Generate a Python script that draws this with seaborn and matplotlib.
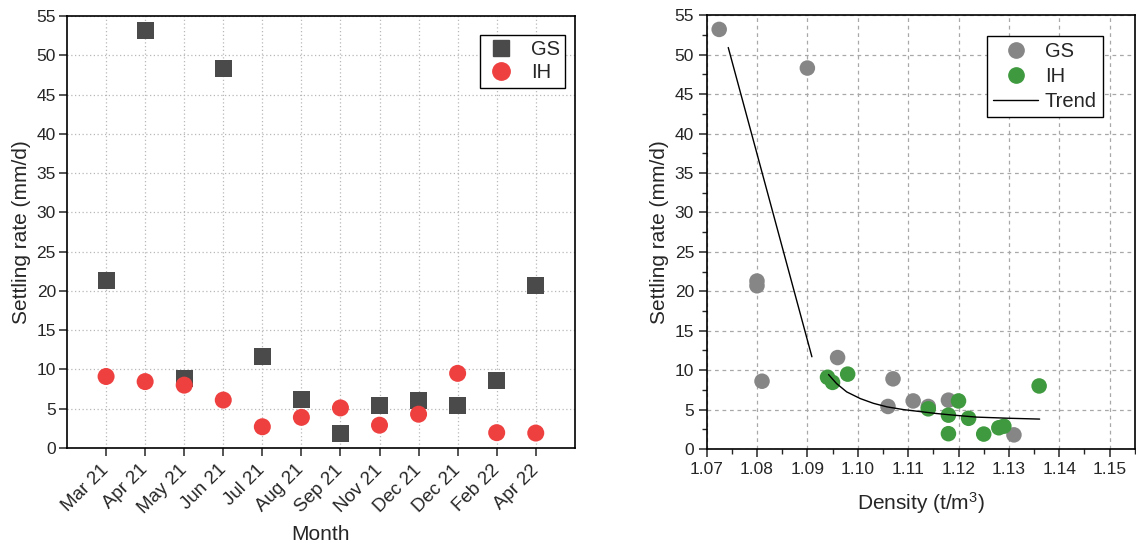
import numpy as np
import pandas as pd
import matplotlib
matplotlib.use("Agg")
import matplotlib.pyplot as plt
from matplotlib.lines import Line2D
from matplotlib.ticker import MultipleLocator, FormatStrFormatter
from matplotlib.transforms import ScaledTranslation
import seaborn as sns

# Sampling campaigns and measured settling rates (mm/d)
months = ["Mar 21", "Apr 21", "May 21", "Jun 21", "Jul 21", "Aug 21",
          "Sep 21", "Nov 21", "Dec 21", "Dec 21", "Feb 22", "Apr 22"]
gs_rate = [21.3, 53.2, 8.9, 48.3, 11.6, 6.2, 1.8, 5.4, 6.1, 5.4, 8.6, 20.7]
ih_rate = [9.1, 8.45, 8.0, 6.1, 2.7, 3.9, 5.1, 2.9, 4.3, 9.5, 1.95, 1.9]

# Sludge density (t/m3) for the same campaigns
gs_density = [1.080, 1.0725, 1.107, 1.090, 1.096, 1.118,
              1.131, 1.106, 1.111, 1.114, 1.081, 1.080]
ih_density = [1.094, 1.095, 1.136, 1.120, 1.128, 1.122,
              1.114, 1.129, 1.118, 1.098, 1.118, 1.125]

# Trend curves (density vs. settling rate)
trend_steep_x = [1.0743, 1.0909]
trend_steep_y = [50.9, 11.7]
trend_decay_x = [1.0942, 1.0958, 1.0978, 1.1005, 1.1031, 1.1058, 1.1091,
                 1.1124, 1.1157, 1.1190, 1.1236, 1.1303, 1.1361]
trend_decay_y = [9.45, 8.3, 7.25, 6.4, 5.8, 5.35, 5.0,
                 4.75, 4.5, 4.3, 4.05, 3.9, 3.8]

sns.set_style("white")
plt.rcParams["font.family"] = ["Liberation Sans", "DejaVu Sans"]
plt.rcParams["mathtext.fontset"] = "custom"
plt.rcParams["mathtext.rm"] = "Liberation Sans"
plt.rcParams["mathtext.it"] = "Liberation Sans:italic"

c_gs_sq = "#4a4a4a"
c_ih_red = "#ef4040"
c_gs_gray = "#868686"
c_ih_green = "#3f9a3f"

pos = np.arange(1, len(months) + 1)
df_month = pd.concat([
    pd.DataFrame({"pos": pos, "rate": gs_rate, "site": "GS"}),
    pd.DataFrame({"pos": pos, "rate": ih_rate, "site": "IH"}),
], ignore_index=True)
df_dens = pd.concat([
    pd.DataFrame({"density": gs_density, "rate": gs_rate, "site": "GS"}),
    pd.DataFrame({"density": ih_density, "rate": ih_rate, "site": "IH"}),
], ignore_index=True)

fig = plt.figure(figsize=(11.36, 5.43), dpi=100)
ax1 = fig.add_axes([0.059, 0.175, 0.447, 0.7956])
ax2 = fig.add_axes([0.622, 0.173, 0.377, 0.799])

tick_fs = 12.5
xtick_fs = 13.5
label_fs = 15
leg_fs = 14.5

# ---- left: settling rate per month ----
sns.scatterplot(data=df_month, x="pos", y="rate", hue="site", style="site",
                palette={"GS": c_gs_sq, "IH": c_ih_red},
                markers={"GS": "s", "IH": "o"}, s=150, linewidth=0,
                ax=ax1, legend=False, zorder=3)
ax1.set_xlim(0, len(months) + 1)
ax1.set_ylim(0, 55)
ax1.set_xticks(pos)
ax1.set_xticklabels(months, rotation=45, ha="right", rotation_mode="anchor",
                    va="center")
shift = ScaledTranslation(0.09, -0.12, fig.dpi_scale_trans)
for lab in ax1.get_xticklabels():
    lab.set_transform(lab.get_transform() + shift)
ax1.yaxis.set_major_locator(MultipleLocator(5))
ax1.grid(True, linestyle=(0, (1, 2)), color="#b8b8b8", linewidth=0.9)
ax1.set_axisbelow(True)
ax1.set_xlabel("Month", fontsize=label_fs, labelpad=6)
ax1.set_ylabel("Settling rate (mm/d)", fontsize=label_fs, labelpad=4)
ax1.tick_params(axis="x", direction="out", length=6, width=1.1,
                labelsize=xtick_fs, pad=8, bottom=True)
ax1.tick_params(axis="y", direction="out", length=6, width=1.1,
                labelsize=tick_fs, pad=2, left=True)
h1 = [Line2D([], [], marker="s", linestyle="", color=c_gs_sq, markersize=11),
      Line2D([], [], marker="o", linestyle="", color=c_ih_red, markersize=12.5)]
leg1 = ax1.legend(h1, ["GS", "IH"], loc="upper right",
                  bbox_to_anchor=(0.981, 0.955), fontsize=leg_fs,
                  frameon=True, fancybox=False, framealpha=1,
                  edgecolor="black", handlelength=1.6, handletextpad=0.7,
                  borderpad=0.25, labelspacing=0.2, borderaxespad=0)
leg1.get_frame().set_linewidth(1.0)

# ---- right: settling rate vs density ----
sns.scatterplot(data=df_dens, x="density", y="rate", hue="site",
                palette={"GS": c_gs_gray, "IH": c_ih_green},
                s=125, linewidth=0, ax=ax2, legend=False, zorder=3)
sns.lineplot(x=trend_steep_x, y=trend_steep_y, color="black", linewidth=1.0,
             ax=ax2, sort=False, estimator=None, zorder=4)
sns.lineplot(x=trend_decay_x, y=trend_decay_y, color="black", linewidth=1.0,
             ax=ax2, sort=False, estimator=None, zorder=4)
ax2.set_xlim(1.07, 1.155)
ax2.set_ylim(0, 55)
ax2.xaxis.set_major_locator(MultipleLocator(0.01))
ax2.xaxis.set_minor_locator(MultipleLocator(0.005))
ax2.yaxis.set_major_locator(MultipleLocator(5))
ax2.yaxis.set_minor_locator(MultipleLocator(2.5))
ax2.xaxis.set_major_formatter(FormatStrFormatter("%.2f"))
ax2.grid(True, which="major", linestyle=(0, (3, 3)), color="#a8a8a8",
         linewidth=0.9)
ax2.set_axisbelow(True)
ax2.set_xlabel("Density (t/m$^3$)", fontsize=label_fs, labelpad=10)
ax2.set_ylabel("Settling rate (mm/d)", fontsize=label_fs, labelpad=4)
ax2.tick_params(axis="both", which="major", direction="out", length=6,
                width=1.1, labelsize=tick_fs, pad=3, bottom=True, left=True)
ax2.tick_params(axis="both", which="minor", direction="out", length=3.5,
                width=1.0, bottom=True, left=True)
h2 = [Line2D([], [], marker="o", linestyle="", color=c_gs_gray, markersize=11),
      Line2D([], [], marker="o", linestyle="", color=c_ih_green, markersize=11),
      Line2D([], [], color="black", linewidth=1.0)]
leg2 = ax2.legend(h2, ["GS", "IH", "Trend"], loc="upper right",
                  bbox_to_anchor=(0.925, 0.953), fontsize=leg_fs,
                  frameon=True, fancybox=False, framealpha=1,
                  edgecolor="black", handlelength=2.2, handletextpad=0.35,
                  borderpad=0.3, labelspacing=0.3, borderaxespad=0)
leg2.get_frame().set_linewidth(1.0)

for ax in (ax1, ax2):
    for sp in ax.spines.values():
        sp.set_visible(True)
        sp.set_color("black")
        sp.set_linewidth(1.2)

fig.savefig("out.png", dpi=100)
